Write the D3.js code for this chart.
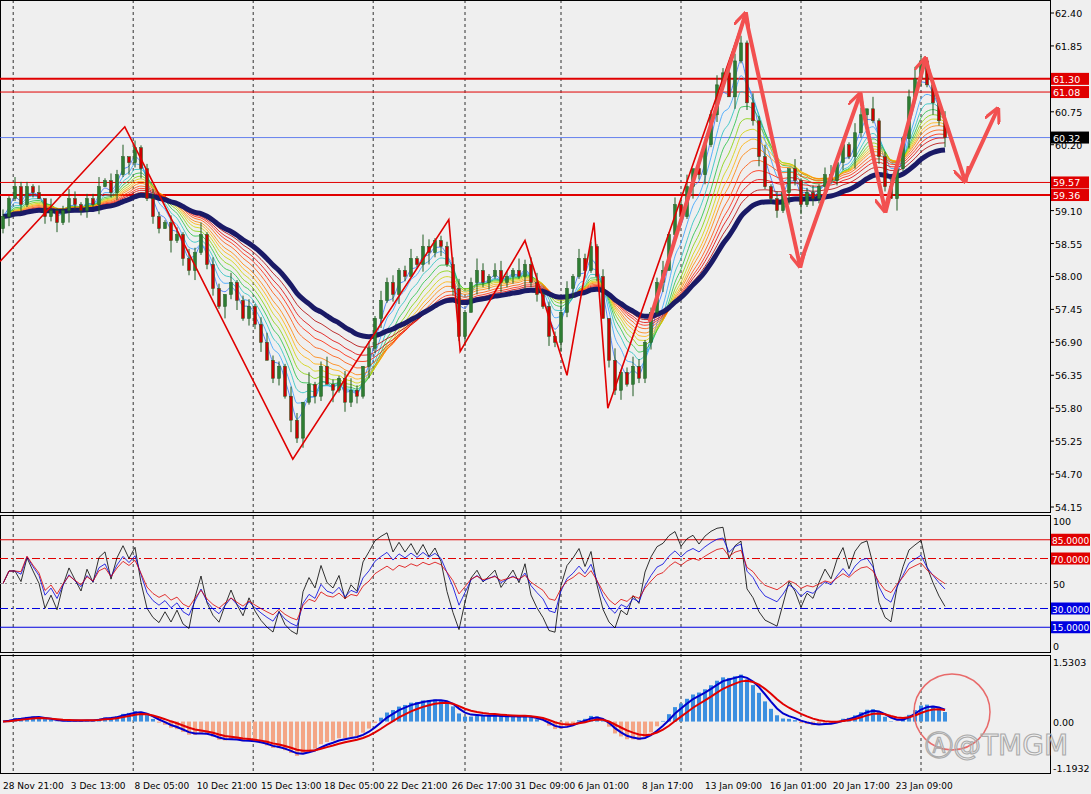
<!DOCTYPE html>
<html><head><meta charset="utf-8">
<script src="https://cdn.jsdelivr.net/npm/d3@7"></script>
<style>body{margin:0;background:#efefef}svg{display:block;font-family:Tahoma,"DejaVu Sans",sans-serif}</style>
</head><body><svg id="chart" width="1091" height="794"></svg>
<script>
// closing prices, one per bar
var closes = [59.0,59.3,59.5,59.2,59.5,59.4,59.3,59.0,59.1,58.9,59.1,59.3,59.2,59.1,59.3,59.2,59.5,59.6,59.4,59.7,
  60.0,59.9,60.15,59.8,59.3,59.0,58.8,58.9,58.6,58.7,58.3,58.1,58.4,58.7,58.2,57.8,57.5,57.7,57.9,57.6,
  57.3,57.5,57.2,56.9,56.6,56.3,56.5,56.0,55.6,55.3,55.9,56.2,56.0,56.5,56.2,56.1,56.3,55.9,56.1,56.0,
  56.5,56.8,57.3,57.6,57.9,57.7,58.1,58.0,58.3,58.2,58.5,58.4,58.6,58.5,58.2,57.8,57.0,57.4,57.9,58.1,
  57.9,58.0,58.1,57.9,58.0,58.1,58.0,58.2,57.9,57.7,57.5,57.0,56.9,57.4,57.8,58.0,58.3,58.1,58.5,58.0,
  57.3,56.6,56.1,56.4,56.2,56.5,56.3,56.9,57.4,57.9,58.1,58.7,59.2,59.0,59.5,59.8,59.7,60.2,60.7,61.2,
  61.4,61.0,61.6,61.9,60.9,60.6,60.0,59.5,59.3,59.1,59.4,59.8,59.6,59.2,59.4,59.3,59.5,59.7,59.6,59.9,
  60.2,60.0,60.4,60.7,60.8,60.6,60.0,59.5,59.3,59.8,60.3,61.0,61.3,61.6,61.2,60.9,60.6,60.32];
var openFirst = 58.8;
// wick lengths in units of 0.04
var upWick = "3142213051243122413250312421331425132041231342214305124213520314231241531223412531342152341225";
var dnWick = "2413120324152231402315241320513241231524132402315241320514231524134201352413240523142315231424";

var priceTicks = [62.40,61.85,60.75,60.20,59.10,58.55,58.00,57.45,56.90,56.35,55.80,55.25,54.70,54.15];
var hLevels = [{p:61.30,w:2},{p:61.08,w:1},{p:59.57,w:1},{p:59.36,w:2}];
var bidPrice = 60.32;

var timeLabels = ["28 Nov 21:00","3 Dec 13:00","8 Dec 05:00","10 Dec 21:00","15 Dec 13:00","18 Dec 05:00","22 Dec 21:00",
  "26 Dec 17:00","31 Dec 09:00","6 Jan 01:00","8 Jan 17:00","13 Jan 09:00","16 Jan 01:00","20 Jan 17:00","23 Jan 09:00"];
var timeLabelBars = [0,11.3,21.9,32.3,43,53.5,64,74.8,85.3,95.8,106.5,117,127.8,138.3,148.8];
var gridBars = [1.7,21.7,41.7,61.7,77,93,113,133,153];

// zigzag (bar index, price)
var zigzag = [[-0.5,58.25],[20.3,60.5],[48.3,54.95],[74.3,58.95],[76.2,56.75],[87,58.6],[94,56.35],[98.5,58.9],[100.8,55.8],[123.8,62.4]];
// forecast arrows
var arrows = [[107.8,57.27],[123.7,62.37],[132.8,58.19],[142.8,61.03],[147,59.11],[153.7,61.62],[160.3,59.61],[165.7,60.78]];

var rsiLevels = [{v:85,c:"#e00000",d:null,l:"85.0000"},{v:70,c:"#e00000",d:"8,3,2,3",l:"70.0000"},
  {v:50,c:"#888",d:"2,3",l:null},{v:30,c:"#0000e0",d:"8,3,2,3",l:"30.0000"},{v:15,c:"#0000e0",d:null,l:"15.0000"}];

var svg = d3.select('#chart');
var plotR = 1050;
var x = d3.scaleLinear().domain([0, 1]).range([3, 9]);
var y = d3.scaleLinear().domain([54.15, 62.40]).range([507, 13]);
var yR = d3.scaleLinear().domain([0, 100]).range([646, 521]);
var yM = d3.scaleLinear().domain([-1.1932, 1.5303]).range([768, 662]);

function ema(arr, n) {
  var k = 2 / (n + 1), out = [], prev = arr[0];
  arr.forEach(function(v) { prev = v * k + prev * (1 - k); out.push(prev); });
  return out;
}
function rsi(arr, n) {
  var g = 0, l = 0, out = [50];
  for (var i = 1; i < arr.length; i++) {
    var d = arr[i] - arr[i - 1];
    g = (g * (n - 1) + Math.max(d, 0)) / n;
    l = (l * (n - 1) + Math.max(-d, 0)) / n;
    out.push(l === 0 ? 60 : 100 - 100 / (1 + g / l));
  }
  return out;
}

// panel frames
svg.append('rect').attr('width', 1091).attr('height', 794).attr('fill', '#efefef');
[[0, 512], [515, 652], [655, 773]].forEach(function(p) {
  svg.append('rect').attr('x', 0.5).attr('y', p[0] + 0.5).attr('width', plotR).attr('height', p[1] - p[0])
    .attr('fill', 'none').attr('stroke', '#000');
});

// vertical grid
gridBars.forEach(function(b) {
  svg.append('line').attr('x1', x(b)).attr('x2', x(b)).attr('y1', 0).attr('y2', 773)
    .attr('stroke', '#000').attr('stroke-dasharray', '3,3').attr('stroke-width', 0.8);
});

var main = svg.append('g');
main.append('clipPath').attr('id', 'cm').append('rect').attr('width', plotR).attr('height', 512);
var mg = main.append('g').attr('clip-path', 'url(#cm)');

// horizontal levels
hLevels.forEach(function(h) {
  mg.append('line').attr('x1', 0).attr('x2', plotR).attr('y1', y(h.p)).attr('y2', y(h.p))
    .attr('stroke', '#e00000').attr('stroke-width', h.w);
});
mg.append('line').attr('x1', 0).attr('x2', plotR).attr('y1', y(bidPrice)).attr('y2', y(bidPrice))
  .attr('stroke', '#4466ee').attr('stroke-width', 0.8);

// rainbow EMAs
var rainbow = [[3,"#3070ff"],[5,"#30a0ff"],[7,"#20c0c0"],[9,"#20c040"],[11,"#80d000"],[13,"#d0d000"],
  [15,"#ffb000"],[17,"#ff8000"],[20,"#ff5000"],[23,"#ff2000"],[26,"#e00000"],[30,"#b00000"]];
var line = d3.line().x(function(d, i) { return x(i); }).y(function(d) { return y(d); }).curve(d3.curveMonotoneX);
rainbow.forEach(function(r) {
  mg.append('path').attr('d', line(ema(closes, r[0]))).attr('fill', 'none').attr('stroke', r[1]).attr('stroke-width', 0.8);
});
mg.append('path').attr('d', line(ema(closes, 36))).attr('fill', 'none').attr('stroke', '#1a1a66').attr('stroke-width', 5);

// candles
closes.forEach(function(c, i) {
  var o = i === 0 ? openFirst : closes[i - 1];
  var hi = Math.max(o, c) + (+upWick[i % upWick.length]) * 0.04;
  var lo = Math.min(o, c) - (+dnWick[i % dnWick.length]) * 0.04;
  var col = c >= o ? '#2e7d32' : '#cc0000';
  mg.append('line').attr('x1', x(i)).attr('x2', x(i)).attr('y1', y(hi)).attr('y2', y(lo)).attr('stroke', '#1e5a20');
  mg.append('rect').attr('x', x(i) - 1.5).attr('width', 3).attr('y', y(Math.max(o, c)))
    .attr('height', Math.max(1, y(Math.min(o, c)) - y(Math.max(o, c))))
    .attr('fill', col).attr('stroke', '#1e5a20').attr('stroke-width', 0.5);
});

// zigzag
mg.append('path').attr('d', d3.line().x(function(d) { return x(d[0]); }).y(function(d) { return y(d[1]); })(zigzag))
  .attr('fill', 'none').attr('stroke', '#e00000').attr('stroke-width', 1.6);

// arrows
var defs = svg.append('defs');
defs.append('marker').attr('id', 'ah').attr('viewBox', '0 0 10 10').attr('refX', 8).attr('refY', 5)
  .attr('markerWidth', 4).attr('markerHeight', 4).attr('orient', 'auto')
  .append('path').attr('d', 'M0,0L10,5L0,10').attr('fill', 'none').attr('stroke', '#f25050').attr('stroke-width', 2);
for (var a = 0; a < arrows.length - 1; a++) {
  svg.append('line').attr('x1', x(arrows[a][0])).attr('y1', y(arrows[a][1]))
    .attr('x2', x(arrows[a + 1][0])).attr('y2', y(arrows[a + 1][1]))
    .attr('stroke', '#f25050').attr('stroke-width', 4).attr('marker-end', 'url(#ah)').attr('stroke-linecap', 'round');
}

// price axis
svg.append('rect').attr('x', plotR + 1).attr('y', 0).attr('width', 40).attr('height', 794).attr('fill', '#efefef');
var ax = svg.append('g').attr('font-size', 9.5);
priceTicks.forEach(function(p) {
  ax.append('line').attr('x1', plotR).attr('x2', plotR + 4).attr('y1', y(p)).attr('y2', y(p)).attr('stroke', '#000');
  ax.append('text').attr('x', plotR + 5).attr('y', y(p) + 4).text(p.toFixed(2));
});
function tag(yy, txt, bg) {
  ax.append('rect').attr('x', plotR + 1).attr('y', yy - 6).attr('width', 38).attr('height', 12).attr('fill', bg);
  ax.append('text').attr('x', plotR + 3).attr('y', yy + 4).attr('fill', '#fff').text(txt);
}
hLevels.forEach(function(h) { tag(y(h.p), h.p.toFixed(2), '#e00000'); });
tag(y(bidPrice), bidPrice.toFixed(2), '#000');

// RSI panel
var rg = svg.append('g');
rg.append('clipPath').attr('id', 'cr').append('rect').attr('y', 516).attr('width', plotR).attr('height', 136);
var rgc = rg.append('g').attr('clip-path', 'url(#cr)');
rsiLevels.forEach(function(l) {
  rgc.append('line').attr('x1', 0).attr('x2', plotR).attr('y1', yR(l.v)).attr('y2', yR(l.v))
    .attr('stroke', l.c).attr('stroke-dasharray', l.d);
  if (l.l) {
    ax.append('rect').attr('x', plotR + 1).attr('y', yR(l.v) - 6).attr('width', 39).attr('height', 12).attr('fill', l.c);
    ax.append('text').attr('x', plotR + 2).attr('y', yR(l.v) + 4).attr('fill', '#fff').attr('font-size', 9).text(l.l);
  }
});
[[100, "100"], [50, "50"], [0, "0"]].forEach(function(t) {
  ax.append('text').attr('x', plotR + 3).attr('y', yR(t[0]) + 4).text(t[1]);
});
var rl = d3.line().x(function(d, i) { return x(i); }).y(function(d) { return yR(d); });
[[4, '#000'], [8, '#0000dd'], [13, '#dd0000']].forEach(function(r) {
  rgc.append('path').attr('d', rl(rsi(closes, r[0]))).attr('fill', 'none').attr('stroke', r[1]).attr('stroke-width', 0.8);
});

// MACD panel
var fast = ema(closes, 8), slow = ema(closes, 20);
var macd = fast.map(function(v, i) { return v - slow[i]; });
var sig1 = ema(macd, 3), sig2 = ema(macd, 7);
var mgp = svg.append('g');
macd.forEach(function(v, i) {
  mgp.append('rect').attr('x', x(i) - 2).attr('width', 4)
    .attr('y', Math.min(yM(v), yM(0))).attr('height', Math.abs(yM(v) - yM(0)))
    .attr('fill', v >= 0 ? '#3b8fe0' : '#f4a585');
});
var ml = d3.line().x(function(d, i) { return x(i); }).y(function(d) { return yM(d); });
mgp.append('path').attr('d', ml(sig1)).attr('fill', 'none').attr('stroke', '#0000cc').attr('stroke-width', 2);
mgp.append('path').attr('d', ml(sig2)).attr('fill', 'none').attr('stroke', '#e00000').attr('stroke-width', 2);
[[1.5303, "1.5303"], [0, "0.00"], [-1.1932, "-1.1932"]].forEach(function(t) {
  ax.append('text').attr('x', plotR + 3).attr('y', yM(t[0]) + 4).text(t[1]);
});
svg.append('circle').attr('cx', 952).attr('cy', 712).attr('r', 38).attr('fill', 'none')
  .attr('stroke', '#e86a6a').attr('stroke-width', 1.5);

// watermark
svg.append('text').attr('x', 925).attr('y', 755).attr('font-size', 28).attr('fill', 'none')
  .attr('stroke', '#aaa').attr('stroke-width', 1.1).attr('font-family', 'DejaVu Sans').text('\u24B6@TMGM');

// time axis
timeLabels.forEach(function(t, i) {
  svg.append('text').attr('x', x(timeLabelBars[i])).attr('y', 789).attr('font-size', 9).text(t);
});
</script></body></html>
